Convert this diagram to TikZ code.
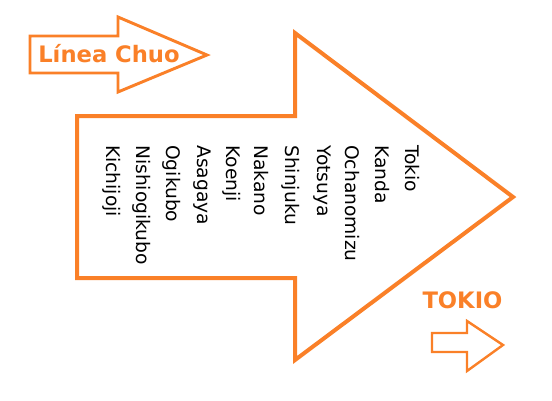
\documentclass[tikz,border=0pt]{standalone}
\usepackage{fontspec}
\setmainfont{DejaVu Sans}
\definecolor{org}{RGB}{250,128,40}
\begin{document}
\begin{tikzpicture}[x=0.75pt,y=-0.75pt,
  arr/.style={draw=org,line join=miter,fill=white},
  stn/.style={rotate=-90,anchor=west,inner sep=0pt,font=\fontsize{14}{16}\selectfont,text=black},
  lbl/.style={inner sep=0pt,anchor=base,text=org,font=\fontsize{17}{20}\selectfont\bfseries}]
\useasboundingbox (0,0) rectangle (552,400);
% big arrow
\draw[arr,line width=3pt] (77,116) -- (295,116) -- (295,33) -- (513,197) -- (295,360) -- (295,278) -- (77,278) -- cycle;
% top-left arrow
\draw[arr,line width=2.2pt] (30,36) -- (118,36) -- (118,17) -- (207,55) -- (118,92) -- (118,73) -- (30,73) -- cycle;
% bottom-right arrow
\draw[arr,line width=1.8pt] (432,333) -- (467,333) -- (467,321) -- (503,345) -- (467,371) -- (467,352) -- (432,352) -- cycle;
\node[lbl] (lc) at (109,62) {Línea Chuo};
\node[lbl] (tk) at (462.5,308) {TOKIO};
\node[stn] (s1) at (412,145) {Tokio};
\node[stn] (s2) at (382,145) {Kanda};
\node[stn] (s3) at (352,145) {Ochanomizu};
\node[stn] (s4) at (322,145) {Yotsuya};
\node[stn] (s5) at (291,145) {Shinjuku};
\node[stn] (s6) at (261,145) {Nakano};
\node[stn] (s7) at (232,145) {Koenji};
\node[stn] (s8) at (202,145) {Asagaya};
\node[stn] (s9) at (172,145) {Ogikubo};
\node[stn] (s10) at (142,145) {Nishiogikubo};
\node[stn] (s11) at (112,145) {Kichijoji};
\end{tikzpicture}
\end{document}
